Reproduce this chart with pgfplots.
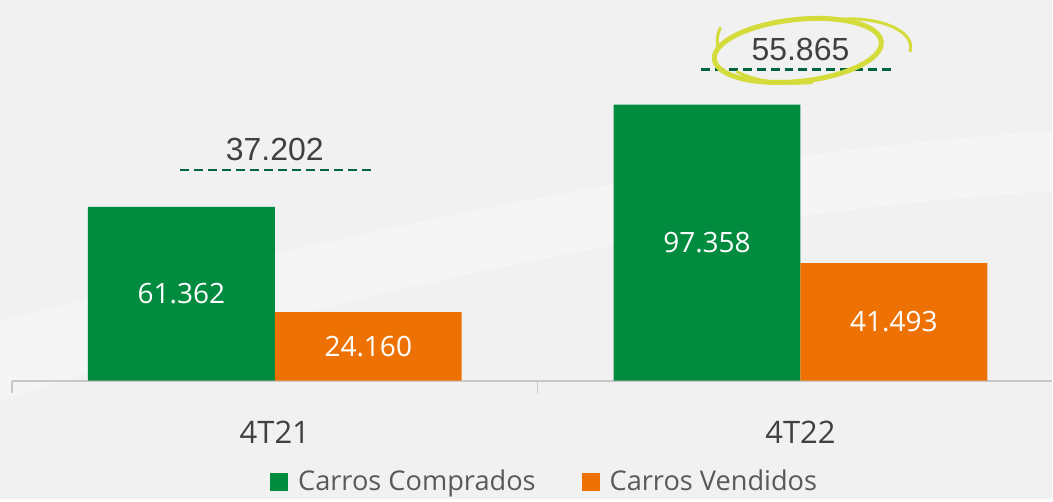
\documentclass[border=0pt]{standalone}
\usepackage{pgfplots}
\pgfplotsset{compat=1.18}
\usepackage{fontspec}
\setmainfont{Open Sans}
\newfontfamily\arialf{Liberation Sans}
\definecolor{cgreen}{RGB}{0,139,62}
\definecolor{corange}{RGB}{238,114,3}
\definecolor{cdash}{RGB}{0,100,60}
\definecolor{clime}{RGB}{212,220,60}
\definecolor{cbg}{RGB}{241,241,241}
\definecolor{ctext}{RGB}{64,64,64}
\definecolor{clegend}{RGB}{89,89,89}
\definecolor{caxis}{RGB}{200,200,200}

\pgfplotsset{
  barlabel/.style={
    nodes near coords={\pgfmathprintnumber[fixed, fixed zerofill, precision=3]{\pgfplotspointmeta}},
    visualization depends on={rawy \as \rawy},
    nodes near coords style={font=\fontsize{14}{14}\selectfont, text=white,
      anchor=center, shift={(axis direction cs:#1,-\rawy/2)}},
  },
  sqlegend/.style={legend image code/.code={\fill[##1] (0pt,-4.5pt) rectangle (9pt,4.5pt);}},
}

\begin{document}
\begin{tikzpicture}
% background
\fill[cbg] (-6pt,-59pt) rectangle (520.5pt,190.5pt);
\fill[white, opacity=0.3] (-6pt,30pt) .. controls (120pt,60pt) and (300pt,110pt) .. (520.5pt,125pt)
  -- (520.5pt,95pt) .. controls (300pt,80pt) and (120pt,30pt) .. (-6pt,-10pt) -- cycle;
\begin{axis}[
  at={(0,0)}, anchor=south west,
  scale only axis, width=520.5pt, height=190.5pt,
  xmin=-0.5, xmax=1.479, ymin=0, ymax=134.3,
  axis y line=none, axis x line*=bottom,
  x axis line style={draw=caxis, line width=0.8pt},
  xtick={0,1}, xticklabels={4T21,4T22},
  major tick length=0pt,
  xticklabel style={font=\fontsize{15.5}{15.5}\selectfont, text=ctext, yshift=-16.5pt},
  extra x ticks={-0.5,0.5,1.5}, extra x tick labels={},
  extra x tick style={major tick length=6pt, tick align=outside,
    tick style={draw=caxis, line width=0.8pt}},
  /pgf/number format/assume math mode=true,
  clip=false,
  legend style={at={(0.513,-0.265)}, anchor=center, draw=none, fill=none,
    legend columns=2, font=\fontsize{13.6}{13.6}\selectfont, text=clegend,
    /tikz/every odd column/.append style={column sep=3pt},
    /tikz/every even column/.append style={column sep=21pt}},
]
\addplot[ybar, bar width=0.3555, bar shift=-0.1778, fill=cgreen, draw=none, barlabel=-0.1778, sqlegend]
  coordinates {(0,61.362) (1,97.358)};
\addplot[ybar, bar width=0.3555, bar shift=0.1778, fill=corange, draw=none, barlabel=0.1778, sqlegend]
  coordinates {(0,24.160) (1,41.493)};
\legend{Carros Comprados, Carros Vendidos}

% difference markers
\addplot[forget plot, draw=cdash, line width=1.3pt, dash pattern=on 4.5pt off 2.5pt]
  coordinates {(-0.18,74.4) (0.19,74.4)};
\addplot[forget plot, draw=cdash, line width=1.3pt, dash pattern=on 4.5pt off 2.5pt]
  coordinates {(0.81,109.7) (1.18,109.7)};
\addplot[forget plot, draw=none, no marks, nodes near coords, point meta=explicit symbolic,
  nodes near coords style={anchor=base, yshift=4.5pt, font=\arialf\fontsize{16}{16}\selectfont, text=ctext}]
  coordinates {(0,74.4)[37.202] (1,109.7)[55.865]};

% highlight ring
\draw[clime, line width=2.5pt] (axis cs:0.995,116.5) ellipse [x radius=42pt, y radius=15.5pt, rotate=6];
\draw[clime, line width=1.5pt] ([shift={(20pt,16pt)}]axis cs:1,116.2) arc[start angle=100, end angle=-10, x radius=30pt, y radius=14pt];
\draw[clime, line width=1.5pt] ([shift={(-32pt,-10pt)}]axis cs:1,116.2) arc[start angle=210, end angle=285, x radius=34pt, y radius=12pt];
\draw[clime, line width=1.5pt] ([shift={(-40pt,12pt)}]axis cs:1,116.2) arc[start angle=150, end angle=200, x radius=12pt, y radius=14pt];
\end{axis}
\end{tikzpicture}
\end{document}
